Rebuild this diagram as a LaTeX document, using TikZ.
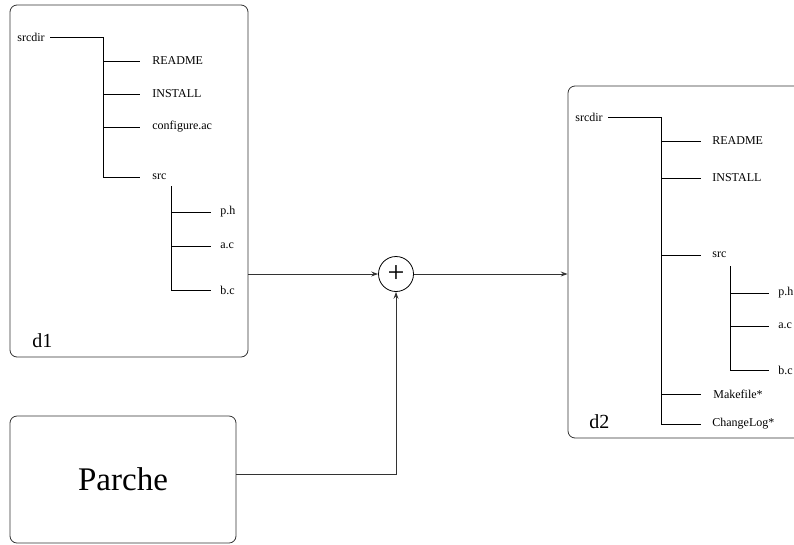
\documentclass[tikz,border=0pt]{standalone}
\usepackage{fontspec}
\setmainfont{Liberation Serif}
\usetikzlibrary{arrows.meta}
\begin{document}
\begin{tikzpicture}[x=1pt,y=-1pt, line width=0.8pt,
  box/.style={draw=black!80, rounded corners=7pt, inner sep=0pt},
  lbl/.style={anchor=west, inner sep=0pt, font=\fontsize{12}{14}\selectfont},
  biglbl/.style={anchor=base west, inner sep=0pt, font=\fontsize{20}{23}\selectfont},
  treeline/.style={draw=black, line width=0.8pt},
  arr/.style={draw=black!80, -{Stealth[length=7pt,width=5pt,inset=2.5pt]}}]
\useasboundingbox (0,0) rectangle (794,544);
\clip (0,0) rectangle (794,544);

% boxes
\node[box, minimum width=238pt, minimum height=352pt] (d1box) at (129,181) {};
\node[box, minimum width=238pt, minimum height=352pt] (d2box) at (687,262) {};
\node[box, minimum width=226pt, minimum height=127pt, font=\fontsize{33}{36}\selectfont] (parche) at (123,479.5) {Parche};
\node[draw=black, circle, minimum size=35pt, inner sep=0pt, font=\fontsize{30}{30}\selectfont] (plus) at (396,274) {\raisebox{-1.5pt}{+}};

\node[biglbl] (d1lbl) at (32,347) {d1};
\node[biglbl] (d2lbl) at (589,428) {d2};

% tree d1
\node[lbl] (srcdirA) at (17,37) {srcdir};
\node[lbl] (readmeA) at (152,61) {README};
\node[lbl] (installA) at (152,94) {INSTALL};
\node[lbl] (configA) at (152,127) {configure.ac};
\node[lbl] (srcA) at (152,177) {src};
\node[lbl] (phA) at (220,212) {p.h};
\node[lbl] (acA) at (220,246) {a.c};
\node[lbl] (bcA) at (220,290) {b.c};
\coordinate (trunkA) at (103,37);
\coordinate (subA) at (171,186);

\draw[treeline] ([xshift=5pt]srcdirA.east) -- (trunkA) |- ([xshift=-12pt]srcA.west);
\draw[treeline] (trunkA |- readmeA) -- ([xshift=-12pt]readmeA.west);
\draw[treeline] (trunkA |- installA) -- ([xshift=-12pt]installA.west);
\draw[treeline] (trunkA |- configA) -- ([xshift=-12pt]configA.west);
\draw[treeline] (subA) |- ([xshift=-9pt]bcA.west);
\draw[treeline] (subA |- phA) -- ([xshift=-9pt]phA.west);
\draw[treeline] (subA |- acA) -- ([xshift=-9pt]acA.west);

% tree d2
\node[lbl] (srcdirB) at (575,117) {srcdir};
\node[lbl] (readmeB) at (712,141) {README};
\node[lbl] (installB) at (712,178) {INSTALL};
\node[lbl] (srcB) at (712,255) {src};
\node[lbl] (makeB) at (713,394) {Makefile*};
\node[lbl] (changeB) at (712,424) {ChangeLog*};
\node[lbl] (phB) at (778,293) {p.h};
\node[lbl] (acB) at (778,326) {a.c};
\node[lbl] (bcB) at (778,370) {b.c};
\coordinate (trunkB) at (661,117);
\coordinate (subB) at (730,266);

\draw[treeline] ([xshift=5pt]srcdirB.east) -- (trunkB) |- ([xshift=-11pt]changeB.west);
\draw[treeline] (trunkB |- readmeB) -- ([xshift=-11pt]readmeB.west);
\draw[treeline] (trunkB |- installB) -- ([xshift=-11pt]installB.west);
\draw[treeline] (trunkB |- srcB) -- ([xshift=-11pt]srcB.west);
\draw[treeline] (trunkB |- makeB) -- ([xshift=-12pt]makeB.west);
\draw[treeline] (subB) |- ([xshift=-9pt]bcB.west);
\draw[treeline] (subB |- phB) -- ([xshift=-9pt]phB.west);
\draw[treeline] (subB |- acB) -- ([xshift=-9pt]acB.west);

% connectors
\draw[arr] (plus -| d1box.east) -- (plus.west);
\draw[arr] (plus.east) -- (plus -| d2box.west);
\draw[arr] ([yshift=5.5pt]parche.east) -| (plus.south);
\end{tikzpicture}
\end{document}
